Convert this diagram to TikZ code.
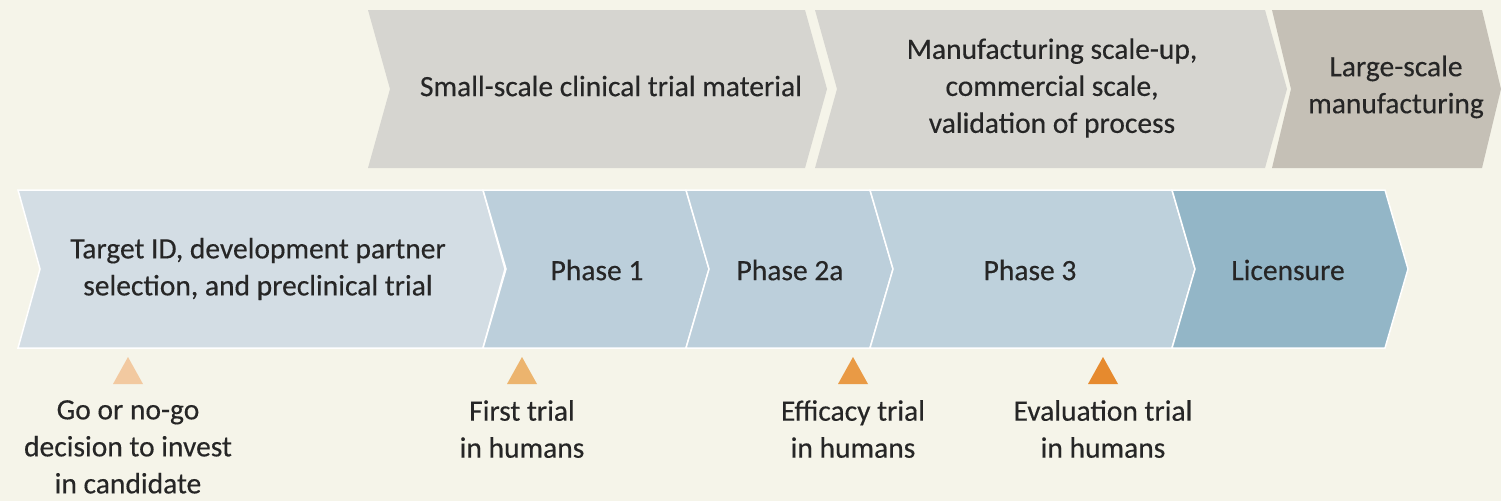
\documentclass[tikz,border=0pt]{standalone}
\usepackage{fontspec}
\setmainfont{Carlito}[FakeBold=0.35]
\definecolor{bg}{HTML}{F5F4E9}
\definecolor{graytop}{HTML}{D6D5D0}
\definecolor{graydark}{HTML}{C5C0B6}
\definecolor{blueA}{HTML}{D3DDE4}
\definecolor{blueB}{HTML}{BCCFDB}
\definecolor{blueC}{HTML}{BED1DC}
\definecolor{blueD}{HTML}{93B6C7}
\definecolor{triA}{HTML}{F2C9A0}
\definecolor{triB}{HTML}{ECB46E}
\definecolor{triC}{HTML}{E99A45}
\definecolor{triD}{HTML}{E68A2E}
\definecolor{txt}{HTML}{262626}
\newcommand{\chev}[6]{% x1 x2 ytop ybot depth style
  \path[#6] (#1,#3) -- (#2,#3) -- ({#2+#5},{(#3+#4)/2}) -- (#2,#4) -- (#1,#4) -- ({#1+#5},{(#3+#4)/2}) -- cycle;}
\newcommand{\tri}[2]{% xcenter colour
  \fill[#2] ({#1-15},384) -- (#1,357) -- ({#1+15},384) -- cycle;}
\begin{document}
\begin{tikzpicture}[x=1pt,y=-1pt,
  lbl/.style={text=txt,align=center,font=\fontsize{29.5}{37}\selectfont,inner sep=0pt},
  toprow/.style={fill=graytop},
  botrow/.style={draw=white,line width=1.5pt}]
\useasboundingbox[fill=bg] (0,0) rectangle (1501,501);
% top row
\chev{368}{805}{10}{168}{22}{toprow}
\chev{815}{1265}{10}{168}{22}{toprow}
\chev{1272}{1482}{10}{168}{19}{fill=graydark}
\node[lbl] (tA) at (611,86) {Small-scale clinical trial material};
\node[lbl] (tB) at (1052,88) {Manufacturing scale-up,\\commercial scale,\\validation of process};
\node[lbl] (tC) at (1396,87) {Large-scale\\manufacturing};
% bottom row
\chev{18}{483}{190}{348}{22}{botrow,fill=blueA}
\chev{483}{686}{190}{348}{23}{botrow,fill=blueB}
\chev{686}{870}{190}{348}{23}{botrow,fill=blueB}
\chev{870}{1172}{190}{348}{23}{botrow,fill=blueC}
\chev{1172}{1385}{190}{348}{23}{botrow,fill=blueD}
\node[lbl] (bA) at (258,269) {Target ID, development partner\\selection, and preclinical trial};
\node[lbl] (bB) at (597,270) {Phase 1};
\node[lbl] (bC) at (790,270) {Phase 2a};
\node[lbl] (bD) at (1030,270) {Phase 3};
\node[lbl] (bE) at (1288,270) {Licensure};
% markers
\tri{128}{triA}
\tri{522}{triB}
\tri{853}{triC}
\tri{1103}{triD}
\node[lbl,anchor=north] (mA) at (128,400) {Go or no-go\\decision to invest\\in candidate};
\node[lbl,anchor=north] (mB) at (522,400) {First trial\\in humans};
\node[lbl,anchor=north] (mC) at (853,400) {Efficacy trial\\in humans};
\node[lbl,anchor=north] (mD) at (1103,400) {Evaluation trial\\in humans};
\end{tikzpicture}
\end{document}
